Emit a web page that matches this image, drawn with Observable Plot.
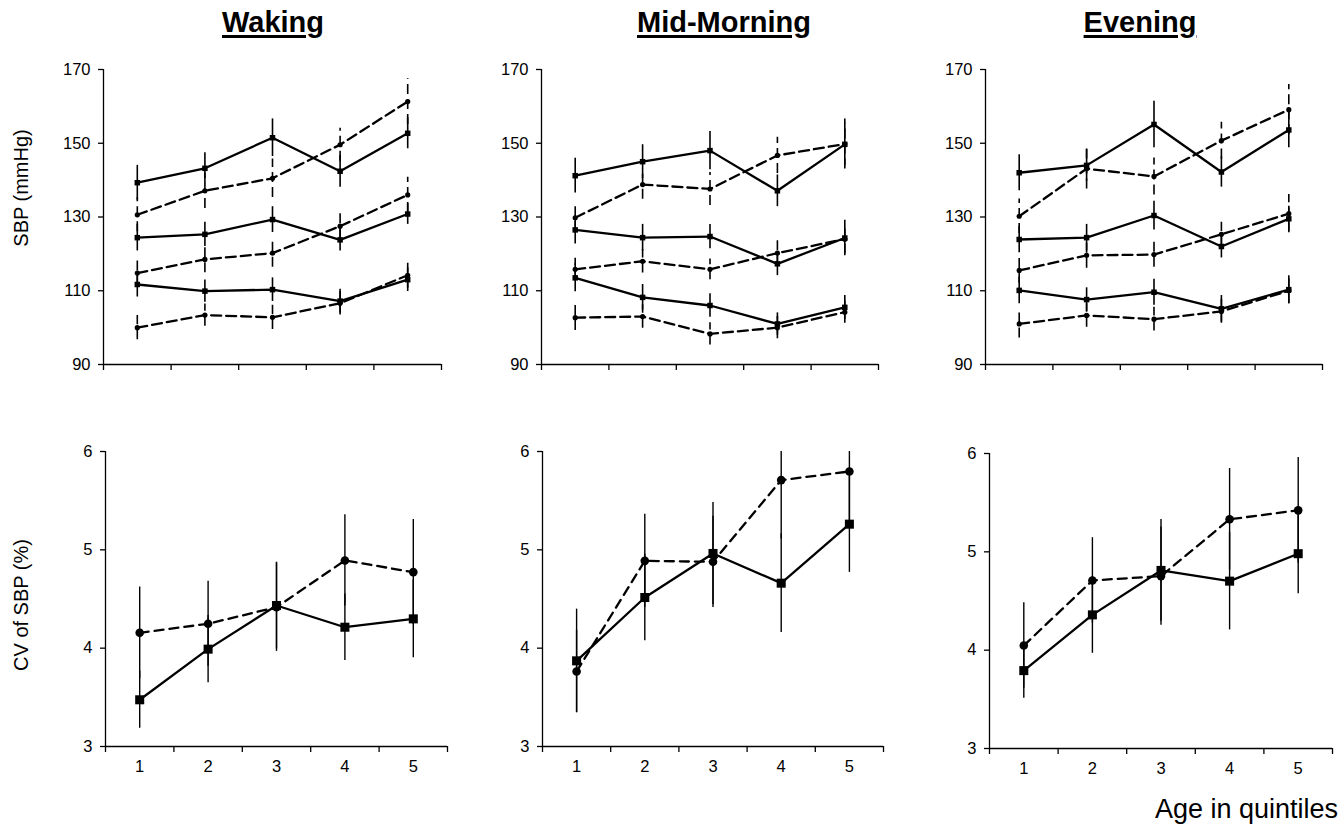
<!DOCTYPE html>
<html>
<head>
<meta charset="utf-8">
<script src="https://cdn.jsdelivr.net/npm/d3@7"></script>
<script src="https://cdn.jsdelivr.net/npm/@observablehq/plot@0.6"></script>
<style>
  html, body { margin: 0; padding: 0; background: #fff; overflow: hidden; }
  #page { position: relative; width: 1341px; height: 834px; font-family: "Liberation Sans", Arial, sans-serif; color: #000; }
  .panel { position: absolute; }
  .title { position: absolute; transform: translateX(-50%); font-weight: bold; font-size: 29px; line-height: 29px;
           text-decoration: underline; text-decoration-thickness: 3px; text-underline-offset: 3px; white-space: nowrap; }
  .ylab { position: absolute; transform: translate(-50%, -50%) rotate(-90deg); font-size: 20px; white-space: nowrap; }
  .xlab { position: absolute; font-size: 27px; white-space: nowrap; }
</style>
</head>
<body>
<div id="page"></div>
<script>
// Age quintiles on the x axis
const quintiles = [1, 2, 3, 4, 5];
const periods = ["Waking", "Mid-Morning", "Evening"];
const sbpTicks = [90, 110, 130, 150, 170];
const cvTicks = [3, 4, 5, 6];

// Systolic BP (mmHg): three solid lines (squares) and three dashed lines (circles) per period,
// with the half-width of each error bar.
const sbpWakingSolid = [
  [139.3, 143.2, 151.5, 142.4, 152.7],
  [124.4, 125.3, 129.3, 123.8, 130.8],
  [111.7, 109.9, 110.3, 107.2, 113.0]
];
const sbpWakingSolidErr = [
  [4.7, 4.2, 5.1, 4.3, 4.2],
  [3.6, 3.3, 3.5, 3.0, 2.8],
  [3.4, 3.0, 3.2, 3.2, 3.2]
];
const sbpWakingDashed = [
  [130.6, 137.1, 140.5, 149.6, 161.3],
  [114.8, 118.5, 120.2, 127.5, 136.0],
  [100.0, 103.4, 102.8, 106.6, 114.2]
];
const sbpWakingDashedErr = [
  [4.6, 4.8, 5.2, 4.5, 6.2],
  [3.5, 3.6, 3.8, 3.4, 4.8],
  [3.3, 3.0, 3.3, 3.2, 3.5]
];

const sbpMidSolid = [
  [141.2, 145.0, 148.0, 137.1, 149.7],
  [126.5, 124.4, 124.7, 117.3, 124.3],
  [113.5, 108.2, 106.0, 101.0, 105.5]
];
const sbpMidSolidErr = [
  [4.7, 4.6, 5.2, 4.3, 5.7],
  [3.8, 3.6, 3.3, 3.2, 4.8],
  [3.8, 3.5, 3.2, 3.0, 3.2]
];
const sbpMidDashed = [
  [129.8, 138.8, 137.6, 146.7, 149.8],
  [115.8, 118.0, 115.8, 120.2, 124.0],
  [102.7, 103.0, 98.3, 100.0, 104.2]
];
const sbpMidDashedErr = [
  [3.8, 4.0, 4.5, 4.9, 6.8],
  [3.0, 3.2, 2.8, 3.4, 4.0],
  [3.5, 3.2, 3.0, 3.0, 3.0]
];

const sbpEveSolid = [
  [142.0, 144.0, 155.1, 142.2, 153.6],
  [123.9, 124.4, 130.4, 122.0, 129.5],
  [110.1, 107.6, 109.6, 105.1, 110.3]
];
const sbpEveSolidErr = [
  [4.9, 4.3, 6.3, 4.1, 4.8],
  [3.6, 3.6, 3.9, 3.1, 3.4],
  [3.6, 3.2, 3.5, 3.6, 3.8]
];
const sbpEveDashed = [
  [130.2, 143.1, 141.0, 150.7, 159.1],
  [115.5, 119.6, 119.8, 125.3, 130.9],
  [101.0, 103.3, 102.3, 104.4, 110.0]
];
const sbpEveDashedErr = [
  [4.7, 5.5, 5.0, 5.0, 6.8],
  [3.5, 3.5, 3.4, 3.3, 5.2],
  [3.8, 3.2, 3.2, 3.2, 3.5]
];

// Coefficient of variation of SBP (%), solid (squares) and dashed (circles), with error half-widths
const cvWakingSolid = [3.475, 3.99, 4.434, 4.213, 4.298];
const cvWakingSolidErr = [0.29, 0.342, 0.44, 0.338, 0.396];
const cvWakingDashed = [4.156, 4.248, 4.417, 4.892, 4.773];
const cvWakingDashedErr = [0.465, 0.433, 0.45, 0.464, 0.536];

const cvMidSolid = [3.871, 4.515, 4.963, 4.661, 5.261];
const cvMidSolidErr = [0.526, 0.44, 0.518, 0.502, 0.49];
const cvMidDashed = [3.763, 4.888, 4.878, 5.709, 5.797];
const cvMidDashedErr = [0.42, 0.475, 0.464, 0.6, 0.56];

const cvEveSolid = [3.792, 4.359, 4.811, 4.702, 4.981];
const cvEveSolidErr = [0.282, 0.391, 0.517, 0.496, 0.408];
const cvEveDashed = [4.047, 4.709, 4.753, 5.331, 5.422];
const cvEveDashedErr = [0.435, 0.435, 0.5, 0.516, 0.537];

// Turn value/error arrays into tidy rows
function rows(values, errs, group) {
  return quintiles.map((q, i) => ({q, v: values[i], lo: values[i] - errs[i], hi: values[i] + errs[i], group}));
}
function multiRows(lines, errLines, prefix) {
  return lines.flatMap((vals, k) => rows(vals, errLines[k], prefix + k));
}

const page = document.getElementById("page");
const bandEdges = [0.5, 1.5, 2.5, 3.5, 4.5, 5.5];

// One panel: frame = [left, right, top, bottom] of the plotting area on the page
function panel({solid, dashed, yDomain, yTicks, frame, labels, big}) {
  const [fx0, fx1, fy0, fy1] = frame.map(Math.round);
  const ml = 60, mr = 12, mt = 12, mb = labels ? 40 : 16;
  const width = fx1 - fx0 + ml + mr;
  const height = fy1 - fy0 + mt + mb;
  const lineW = 2.3;
  const dash = big ? "9,6" : "10,5";
  const r = big ? 4.3 : 2.6;
  const rs = big ? 5.1 : 3.1;
  const barW = big ? 1.4 : 1.6;

  const marks = [
    Plot.axisY({ticks: yTicks, tickSize: 5, tickPadding: 8, tickFormat: d => String(d), label: null, fontSize: 16.5, strokeWidth: 1.3}),
    Plot.axisX({ticks: bandEdges, tickSize: 6, tickFormat: () => "", label: null, strokeWidth: 1.3}),
    Plot.ruleX([0.5], {strokeWidth: 1.3}),
    Plot.ruleY([yDomain[0]], {strokeWidth: 1.3}),
    Plot.ruleX(solid, {x: "q", y1: "lo", y2: "hi", strokeWidth: barW}),
    Plot.ruleX(dashed, {x: "q", y1: "lo", y2: "hi", strokeWidth: barW, strokeDasharray: big ? null : dash}),
    Plot.line(solid, {x: "q", y: "v", z: "group", strokeWidth: lineW}),
    Plot.line(dashed, {x: "q", y: "v", z: "group", strokeWidth: lineW, strokeDasharray: dash}),
    Plot.dot(dashed, {x: "q", y: "v", r, fill: "black", stroke: null}),
    Plot.dot(solid, {x: "q", y: "v", r: rs, symbol: "square", fill: "black", stroke: null})
  ];
  if (labels) {
    marks.push(Plot.axisX({ticks: quintiles, tickSize: 0, tickPadding: 14, tickFormat: d => String(d), label: null, fontSize: 16.5}));
  }

  const svg = Plot.plot({
    width, height,
    marginLeft: ml, marginRight: mr, marginTop: mt, marginBottom: mb,
    x: {domain: [0.5, 5.5], axis: null},
    y: {domain: yDomain, axis: null, clamp: true},
    style: {fontFamily: "'Liberation Sans', Arial, sans-serif", fontSize: "16.5px", color: "black", background: "transparent", overflow: "visible"},
    marks
  });
  svg.classList.add("panel");
  svg.style.left = (fx0 - ml) + "px";
  svg.style.top = (fy0 - mt) + "px";
  page.appendChild(svg);
}

// Top row: SBP
const sbpSets = [
  [sbpWakingSolid, sbpWakingSolidErr, sbpWakingDashed, sbpWakingDashedErr, [103, 441, 69, 364]],
  [sbpMidSolid, sbpMidSolidErr, sbpMidDashed, sbpMidDashedErr, [540.5, 878, 69, 364]],
  [sbpEveSolid, sbpEveSolidErr, sbpEveDashed, sbpEveDashedErr, [984.5, 1322, 69, 364]]
];
for (const [s, se, d, de, frame] of sbpSets) {
  panel({solid: multiRows(s, se, "s"), dashed: multiRows(d, de, "d"), yDomain: [90, 170], yTicks: sbpTicks, frame, labels: false, big: false});
}

// Bottom row: CV of SBP
const cvSets = [
  [cvWakingSolid, cvWakingSolidErr, cvWakingDashed, cvWakingDashedErr, [105, 447, 451, 746]],
  [cvMidSolid, cvMidSolidErr, cvMidDashed, cvMidDashedErr, [542, 883, 451, 746]],
  [cvEveSolid, cvEveSolidErr, cvEveDashed, cvEveDashedErr, [989, 1332, 453, 748]]
];
for (const [s, se, d, de, frame] of cvSets) {
  panel({solid: rows(s, se, "s"), dashed: rows(d, de, "d"), yDomain: [3, 6], yTicks: cvTicks, frame, labels: true, big: true});
}

// Column titles
const titleCenters = [273, 724, 1140];
periods.forEach((p, i) => {
  const t = document.createElement("div");
  t.className = "title";
  t.textContent = p;
  t.style.left = titleCenters[i] + "px";
  t.style.top = "8px";
  page.appendChild(t);
});

// Axis titles
function addLabel(cls, text, left, top) {
  const el = document.createElement("div");
  el.className = cls;
  el.textContent = text;
  el.style.left = left + "px";
  el.style.top = top + "px";
  page.appendChild(el);
  return el;
}
addLabel("ylab", "SBP (mmHg)", 21, 188);
addLabel("ylab", "CV of SBP (%)", 21, 605);
const xl = addLabel("xlab", "Age in quintiles", 0, 794);
xl.style.left = "auto";
xl.style.right = "3px";
</script>
</body>
</html>
